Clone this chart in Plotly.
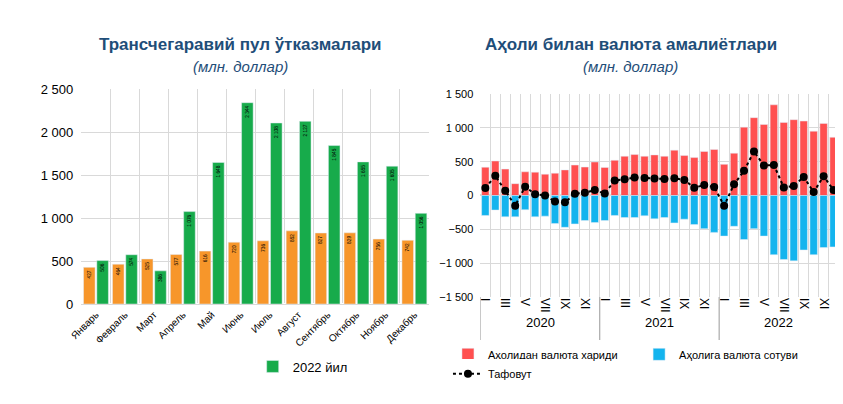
import plotly.graph_objects as go

months = ['Январь', 'Февраль', 'Март', 'Апрель', 'Май', 'Июнь', 'Июль', 'Август',
          'Сентябрь', 'Октябрь', 'Ноябрь', 'Декабрь']
y2021 = [427, 464, 525, 577, 616, 720, 736, 852, 827, 829, 756, 742]
y2022 = [506, 574, 386, 1076, 1648, 2344, 2108, 2127, 1845, 1655, 1605, 1056]

buy = [418, 510, 390, 175, 350, 345, 315, 330, 378, 450, 420, 495,
       415, 520, 580, 605, 580, 600, 580, 670, 590, 560, 650, 680,
       460, 625, 1010, 1150, 1050, 1340, 1080, 1120, 1100, 950, 1065, 860]
sell = [-295, -215, -315, -315, -210, -315, -305, -415, -470, -420, -370, -400,
        -370, -295, -325, -325, -300, -345, -325, -405, -350, -430, -490, -545,
        -600, -455, -650, -490, -600, -875, -945, -965, -805, -875, -770, -760]
net = [110, 290, 70, -150, 130, 20, 0, -90, -100, 25, 40, 80,
       30, 220, 240, 265, 260, 250, 245, 255, 230, 115, 155, 125,
       -150, 165, 365, 650, 445, 450, 120, 140, 275, 50, 285, 80]
roman = ['I', 'III', 'V', 'VII', 'IX', 'XI']
years = ['2020', '2021', '2022']

def fmt(v):
    return f"{v:,}".replace(',', ' ')

xm = list(range(12))
xq = list(range(36))
txtfont = dict(family='Arial Black, Arial', size=12, color='black')

fig = go.Figure()
fig.add_bar(x=xm, y=y2021, name='2021 йил', marker_color='#F7962A', text=[fmt(v) for v in y2021],
            textposition='inside', insidetextanchor='end', textangle=-90, textfont=txtfont,
            width=0.4, offset=-0.43, legend='legend')
fig.add_bar(x=xm, y=y2022, name='2022 йил', marker_color='#17AB4B', text=[fmt(v) for v in y2022],
            textposition='inside', insidetextanchor='end', textangle=-90, textfont=txtfont,
            width=0.4, offset=0.03, legend='legend3')
fig.add_bar(x=xq, y=buy, name='Аҳолидан валюта хариди', marker_color='#FF5050',
            xaxis='x2', yaxis='y2', legend='legend2', width=0.75, offset=-0.375)
fig.add_bar(x=xq, y=sell, name='Аҳолига валюта сотуви', marker_color='#14B4EE',
            xaxis='x2', yaxis='y2', legend='legend4', width=0.75, offset=-0.375)
fig.add_scatter(x=xq, y=net, name='Тафовут', mode='lines+markers', xaxis='x2', yaxis='y2',
                line=dict(color='black', dash='dot', width=2), marker=dict(color='black', size=8),
                legend='legend5')

grid = '#D9D9D9'
lf_big = dict(size=13, color='black', family='Arial Black, Arial')
lf_small = dict(size=11, color='black', family='Arial Black, Arial')
fig.update_layout(
    width=843, height=404, margin=dict(l=0, r=0, t=0, b=0),
    paper_bgcolor='white', plot_bgcolor='white', separators=', ',
    font=dict(family='Arial', color='#222'),
    barmode='overlay', uniformtext=dict(minsize=11, mode='show'),
    xaxis=dict(domain=[0.074, 0.492], range=[-0.5, 11.5], tickvals=xm, ticktext=months,
               tickangle=-45, tickfont=dict(size=10, color='black', family='Arial Black, Arial'),
               showgrid=False, minor=dict(tick0=-0.5, dtick=1, showgrid=True, gridcolor=grid),
               showline=True, linecolor=grid, zeroline=False),
    yaxis=dict(domain=[0.257, 0.809], range=[0, 2500], dtick=500, gridcolor=grid,
               tickfont=dict(size=13, color='black'), tickformat=',d', ticksuffix='  '),
    xaxis2=dict(domain=[0.554, 0.985], range=[-0.5, 35.5], anchor='y2',
                tickvals=[m + 12 * k for k in range(3) for m in (0, 2, 4, 6, 8, 10)],
                ticktext=roman * 3, tickangle=90, tickfont=dict(size=12, color='black'),
                showgrid=False, ticks='', minor=dict(tick0=-0.5, dtick=1, showgrid=True, gridcolor=grid),
                zeroline=False),
    yaxis2=dict(domain=[0.275, 0.797], range=[-1500, 1500], dtick=500, gridcolor=grid,
                anchor='x2', tickfont=dict(size=11, color='black'), tickformat=',d',
                zeroline=True, zerolinecolor=grid, ticksuffix='  '),
    legend=dict(x=0.125, y=0.135, xanchor='left', yanchor='top', font=lf_big),
    legend3=dict(x=0.28, y=0.135, xanchor='left', yanchor='top', font=lf_big),
    legend2=dict(x=0.515, y=0.165, xanchor='left', yanchor='top', font=lf_small),
    legend4=dict(x=0.745, y=0.165, xanchor='left', yanchor='top', font=lf_small),
    legend5=dict(x=0.515, y=0.115, xanchor='left', yanchor='top', font=lf_small),
)

# year labels and separators on the right chart
for k, yr in enumerate(years):
    fig.add_annotation(x=5.5 + 12 * k, y=0.185, xref='x2', yref='paper', text=yr, showarrow=False,
                       xanchor='center', font=dict(size=13, color='black'))
for xs in (-0.5, 11.5, 23.5, 35.5):
    fig.add_shape(type='line', xref='x2', yref='paper', x0=xs, x1=xs, y0=0.275, y1=0.155,
                  line=dict(color='#999', width=1))

title_col = '#1F4E79'
for cx, t in ((0.265, 'Трансчегаравий пул ўтказмалари'), (0.735, 'Аҳоли билан валюта амалиётлари')):
    fig.add_annotation(x=cx, y=0.955, xref='paper', yref='paper', showarrow=False, xanchor='center',
                       text=f'<b>{t}</b>', font=dict(size=17, color=title_col))
    fig.add_annotation(x=cx, y=0.895, xref='paper', yref='paper', showarrow=False, xanchor='center',
                       text='<i>(млн. доллар)</i>', font=dict(size=15, color=title_col))

fig.write_html("out.html")
